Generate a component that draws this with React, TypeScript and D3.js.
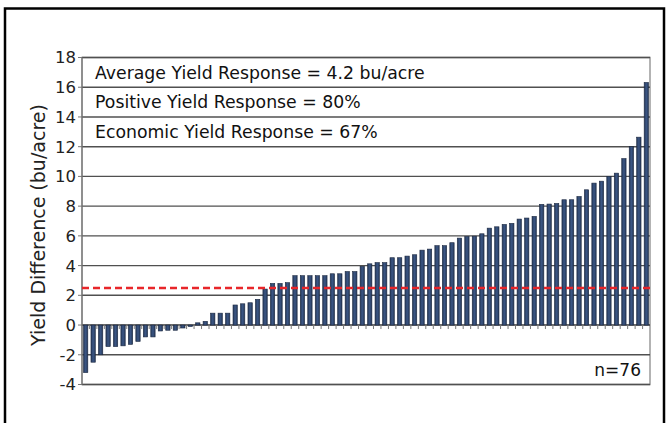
import React from "react";
import * as d3 from "d3";

const values: number[] = [
  -3.2, -2.5, -2.0, -1.45, -1.45, -1.4, -1.3, -1.1, -0.8, -0.8, -0.4, -0.35, -0.35, -0.2, -0.1,
  0.15, 0.25, 0.8, 0.8, 0.8, 1.35, 1.43, 1.5, 1.73, 2.42, 2.8, 2.8, 2.85,
  3.32, 3.32, 3.32, 3.32, 3.32, 3.45, 3.45, 3.6, 3.6, 3.95, 4.12, 4.2, 4.2,
  4.53, 4.53, 4.64, 4.73, 5.04, 5.11, 5.34, 5.34, 5.54, 5.85, 5.96, 5.98, 6.14,
  6.52, 6.61, 6.77, 6.84, 7.13, 7.2, 7.31, 8.12, 8.14, 8.18, 8.43, 8.43, 8.65,
  9.1, 9.55, 9.68, 10.0, 10.22, 11.2, 12.0, 12.64, 16.32,
];
const yTicks: number[] = [-4, -2, 0, 2, 4, 6, 8, 10, 12, 14, 16, 18];
const breakEven = 2.5;
const annotations: string[] = [
  "Average Yield Response = 4.2 bu/acre",
  "Positive Yield Response = 80%",
  "Economic Yield Response = 67%",
];
const annotationYs: number[] = [17, 15, 13];
const nLabel = "n=76";
const yTitle = "Yield Difference  (bu/acre)";

export default function App() {
  const W = 670, H = 423;
  const left = 82, right = 650, top = 57.5, bottom = 384.5;
  const x = d3
    .scaleBand<number>()
    .domain(values.map((_, i) => i))
    .range([left, right])
    .paddingInner(0.42)
    .paddingOuter(0.2);
  const y = d3.scaleLinear().domain([-4, 18]).range([bottom, top]);
  const font = "'DejaVu Sans', Verdana, sans-serif";
  const step = x.step();
  const boundaries = d3
    .range(1, values.length)
    .map((i) => left + x.paddingOuter() * step - (x.paddingInner() * step) / 2 + i * step);

  return (
    <svg width={W} height={H} style={{ position: "absolute", left: 0, top: 0 }} fontFamily={font}>
      <defs>
        <linearGradient id="barGrad" x1="0" x2="1" y1="0" y2="0">
          <stop offset="0" stopColor="#26395a" />
          <stop offset="0.5" stopColor="#3b5684" />
          <stop offset="1" stopColor="#26395a" />
        </linearGradient>
      </defs>
      <rect x={0} y={0} width={W} height={H} fill="#fff" />
      <rect x={5} y={8.5} width={659} height={430} fill="none" stroke="#000" strokeWidth={2.5} />
      {/* plot frame */}
      <rect x={left} y={top} width={right - left} height={bottom - top} fill="#fff" stroke="#9a9a9a" strokeWidth={1.5} />
      {/* gridlines */}
      {yTicks.map((t) => (
        <line key={"g" + t} x1={left} x2={right} y1={y(t)} y2={y(t)} stroke={t === 0 ? "#3a3a3a" : "#505050"} strokeWidth={1.4} />
      ))}
      {/* y tick marks and labels */}
      {yTicks.map((t) => (
        <g key={"t" + t}>
          <line x1={left - 4} x2={left} y1={y(t)} y2={y(t)} stroke="#777" strokeWidth={1} />
          <text x={left - 6} y={y(t)} dy="0.36em" textAnchor="end" fontSize={16.5} fill="#222">
            {t}
          </text>
        </g>
      ))}
      <line x1={left} x2={left} y1={top} y2={bottom} stroke="#777" strokeWidth={1.2} />
      {/* category tick marks below zero */}
      {boundaries.map((bx, i) => (
        <line key={"c" + i} x1={bx} x2={bx} y1={y(0)} y2={y(0) + 4} stroke="#777" strokeWidth={1} />
      ))}
      {/* bars */}
      {values.map((v, i) => (
        <rect
          key={"b" + i}
          x={x(i)}
          y={y(Math.max(0, v))}
          width={x.bandwidth()}
          height={Math.abs(y(v) - y(0))}
          fill="url(#barGrad)"
          stroke="#1c2840"
          strokeWidth={0.6}
        />
      ))}
      {/* break-even line */}
      <line x1={left} x2={right} y1={y(breakEven)} y2={y(breakEven)} stroke="#e8262a" strokeWidth={2.5} strokeDasharray="7,4" />
      {/* annotations */}
      {annotations.map((a, i) => (
        <text key={"a" + i} x={95} y={y(annotationYs[i])} dy="0.36em" fontSize={17.3} fill="#111">
          {a}
        </text>
      ))}
      <text x={641} y={y(-3)} dy="0.36em" textAnchor="end" fontSize={17} fill="#111">
        {nLabel}
      </text>
      <text
        transform={`translate(38, ${(top + bottom) / 2 + 4}) rotate(-90)`}
        textAnchor="middle"
        dy="0.36em"
        fontSize={19}
        fill="#222"
      >
        {yTitle}
      </text>
    </svg>
  );
}
